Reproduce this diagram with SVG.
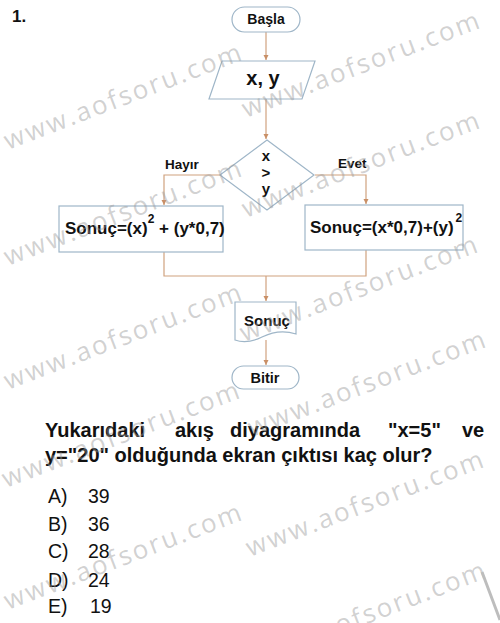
<svg xmlns="http://www.w3.org/2000/svg" width="500" height="623" viewBox="0 0 500 623">
<defs>
<marker id="arr" markerWidth="6" markerHeight="6" refX="5" refY="3" orient="auto" markerUnits="userSpaceOnUse">
<path d="M0,0.5 L5,3 L0,5.5 Z" fill="#c98f66"/>
</marker>
<style>
.shape{fill:#ffffff;stroke:#9fb6c8;stroke-width:1.2}
.con{fill:none;stroke:#d0a27f;stroke-width:1.2}
.b{font-family:"Liberation Sans",Arial,sans-serif;font-weight:bold;fill:#111}
.r{font-family:"Liberation Sans",Arial,sans-serif;fill:#111}
.wm{font-family:"Open Sans","DejaVu Sans",sans-serif;font-size:26px;fill:#9a9a9a;fill-opacity:0.45}
</style>
</defs>
<rect width="500" height="623" fill="#ffffff"/>
<text class="b" x="12" y="22" font-size="17">1.</text>

<g id="connectors">
<path class="con" d="M266,32 V60" marker-end="url(#arr)"/>
<path class="con" d="M266,99 V139" marker-end="url(#arr)"/>
<path class="con" d="M220,175 H164 V205" marker-end="url(#arr)"/>
<path class="con" d="M315,175 H366 V204" marker-end="url(#arr)"/>
<path class="con" d="M164,252 V276 H366 V250"/>
<path class="con" d="M266,276 V301" marker-end="url(#arr)"/>
<path class="con" d="M266,340 V365" marker-end="url(#arr)"/>
</g>

<g id="start">
<rect class="shape" x="232" y="7" width="68" height="25" rx="12.5"/>
<text class="b" x="266" y="24" font-size="14" text-anchor="middle">Başla</text>
</g>
<g id="input">
<polygon class="shape" points="222,61 315,61 302,99 209,99"/>
<text class="b" x="263" y="85" font-size="20" text-anchor="middle">x, y</text>
</g>
<g id="decision">
<polygon class="shape" points="267,140 314,175 267,210 220,175"/>
<text class="b" x="266" y="161" font-size="15" text-anchor="middle">x</text>
<text class="b" x="266" y="178" font-size="15" text-anchor="middle">&gt;</text>
<text class="b" x="266" y="194" font-size="15" text-anchor="middle">y</text>
<text class="b" x="165" y="169" font-size="13.5">Hayır</text>
<text class="b" x="338" y="168" font-size="13.5">Evet</text>
</g>
<g id="left-box">
<rect class="shape" x="59" y="206" width="164" height="46"/>
<text class="b" x="65" y="234" font-size="17">Sonuç=(x)<tspan font-size="12" dy="-11">2</tspan><tspan dy="11"> + (y*0,7)</tspan></text>
</g>
<g id="right-box">
<rect class="shape" x="305" y="205" width="158" height="45"/>
<text class="b" x="310" y="233" font-size="17">Sonuç=(x*0,7)+(y)<tspan font-size="12" dx="2" dy="-11">2</tspan></text>
</g>
<g id="output">
<path class="shape" d="M235,302 H296 V334 C284,330 272,332 262,337 C252,342 243,343 235,340 Z"/>
<text class="b" x="267" y="326" font-size="15" text-anchor="middle">Sonuç</text>
</g>
<g id="end">
<rect class="shape" x="232" y="366" width="67" height="23" rx="11.5"/>
<text class="b" x="265" y="383" font-size="14.5" text-anchor="middle">Bitir</text>
</g>

<g id="question">
<text class="b" font-size="20" y="437"><tspan x="45">Yukarıdaki</tspan><tspan x="175">akış</tspan><tspan x="230">diyagramında</tspan><tspan x="388">"x=5"</tspan><tspan x="462">ve</tspan></text>
<text class="b" font-size="20" x="45" y="462">y="20" olduğunda ekran çıktısı kaç olur?</text>
</g>
<g id="options" class="r" font-size="19.5">
<text class="r" x="48" y="503">A)</text><text class="r" x="88" y="503">39</text>
<text class="r" x="48" y="531">B)</text><text class="r" x="88" y="531">36</text>
<text class="r" x="48" y="558">C)</text><text class="r" x="88" y="558">28</text>
<text class="r" x="48" y="587">D)</text><text class="r" x="88" y="587">24</text>
<text class="r" x="48" y="613">E)</text><text class="r" x="90" y="613">19</text>
</g>

<g id="watermarks">
<text class="wm" transform="translate(8,150) rotate(-21)" textLength="252" lengthAdjust="spacing">www.aofsoru.com</text>
<text class="wm" transform="translate(246,118) rotate(-21)" textLength="252" lengthAdjust="spacing">www.aofsoru.com</text>
<text class="wm" transform="translate(246,218) rotate(-21)" textLength="252" lengthAdjust="spacing">www.aofsoru.com</text>
<text class="wm" transform="translate(8,266) rotate(-21)" textLength="252" lengthAdjust="spacing">www.aofsoru.com</text>
<text class="wm" transform="translate(8,390) rotate(-21)" textLength="252" lengthAdjust="spacing">www.aofsoru.com</text>
<text class="wm" transform="translate(244,342) rotate(-21)" textLength="252" lengthAdjust="spacing">www.aofsoru.com</text>
<text class="wm" transform="translate(252,437) rotate(-21)" textLength="252" lengthAdjust="spacing">www.aofsoru.com</text>
<text class="wm" transform="translate(6,488) rotate(-21)" textLength="252" lengthAdjust="spacing">www.aofsoru.com</text>
<text class="wm" transform="translate(250,557) rotate(-21)" textLength="252" lengthAdjust="spacing">www.aofsoru.com</text>
<text class="wm" transform="translate(8,610) rotate(-21)" textLength="252" lengthAdjust="spacing">www.aofsoru.com</text>
<text class="wm" transform="translate(252,668) rotate(-21)" textLength="252" lengthAdjust="spacing">www.aofsoru.com</text>
<path d="M482,572 L500,620" stroke="#bdbdbd" stroke-width="3" fill="none"/>
</g>
</svg>
